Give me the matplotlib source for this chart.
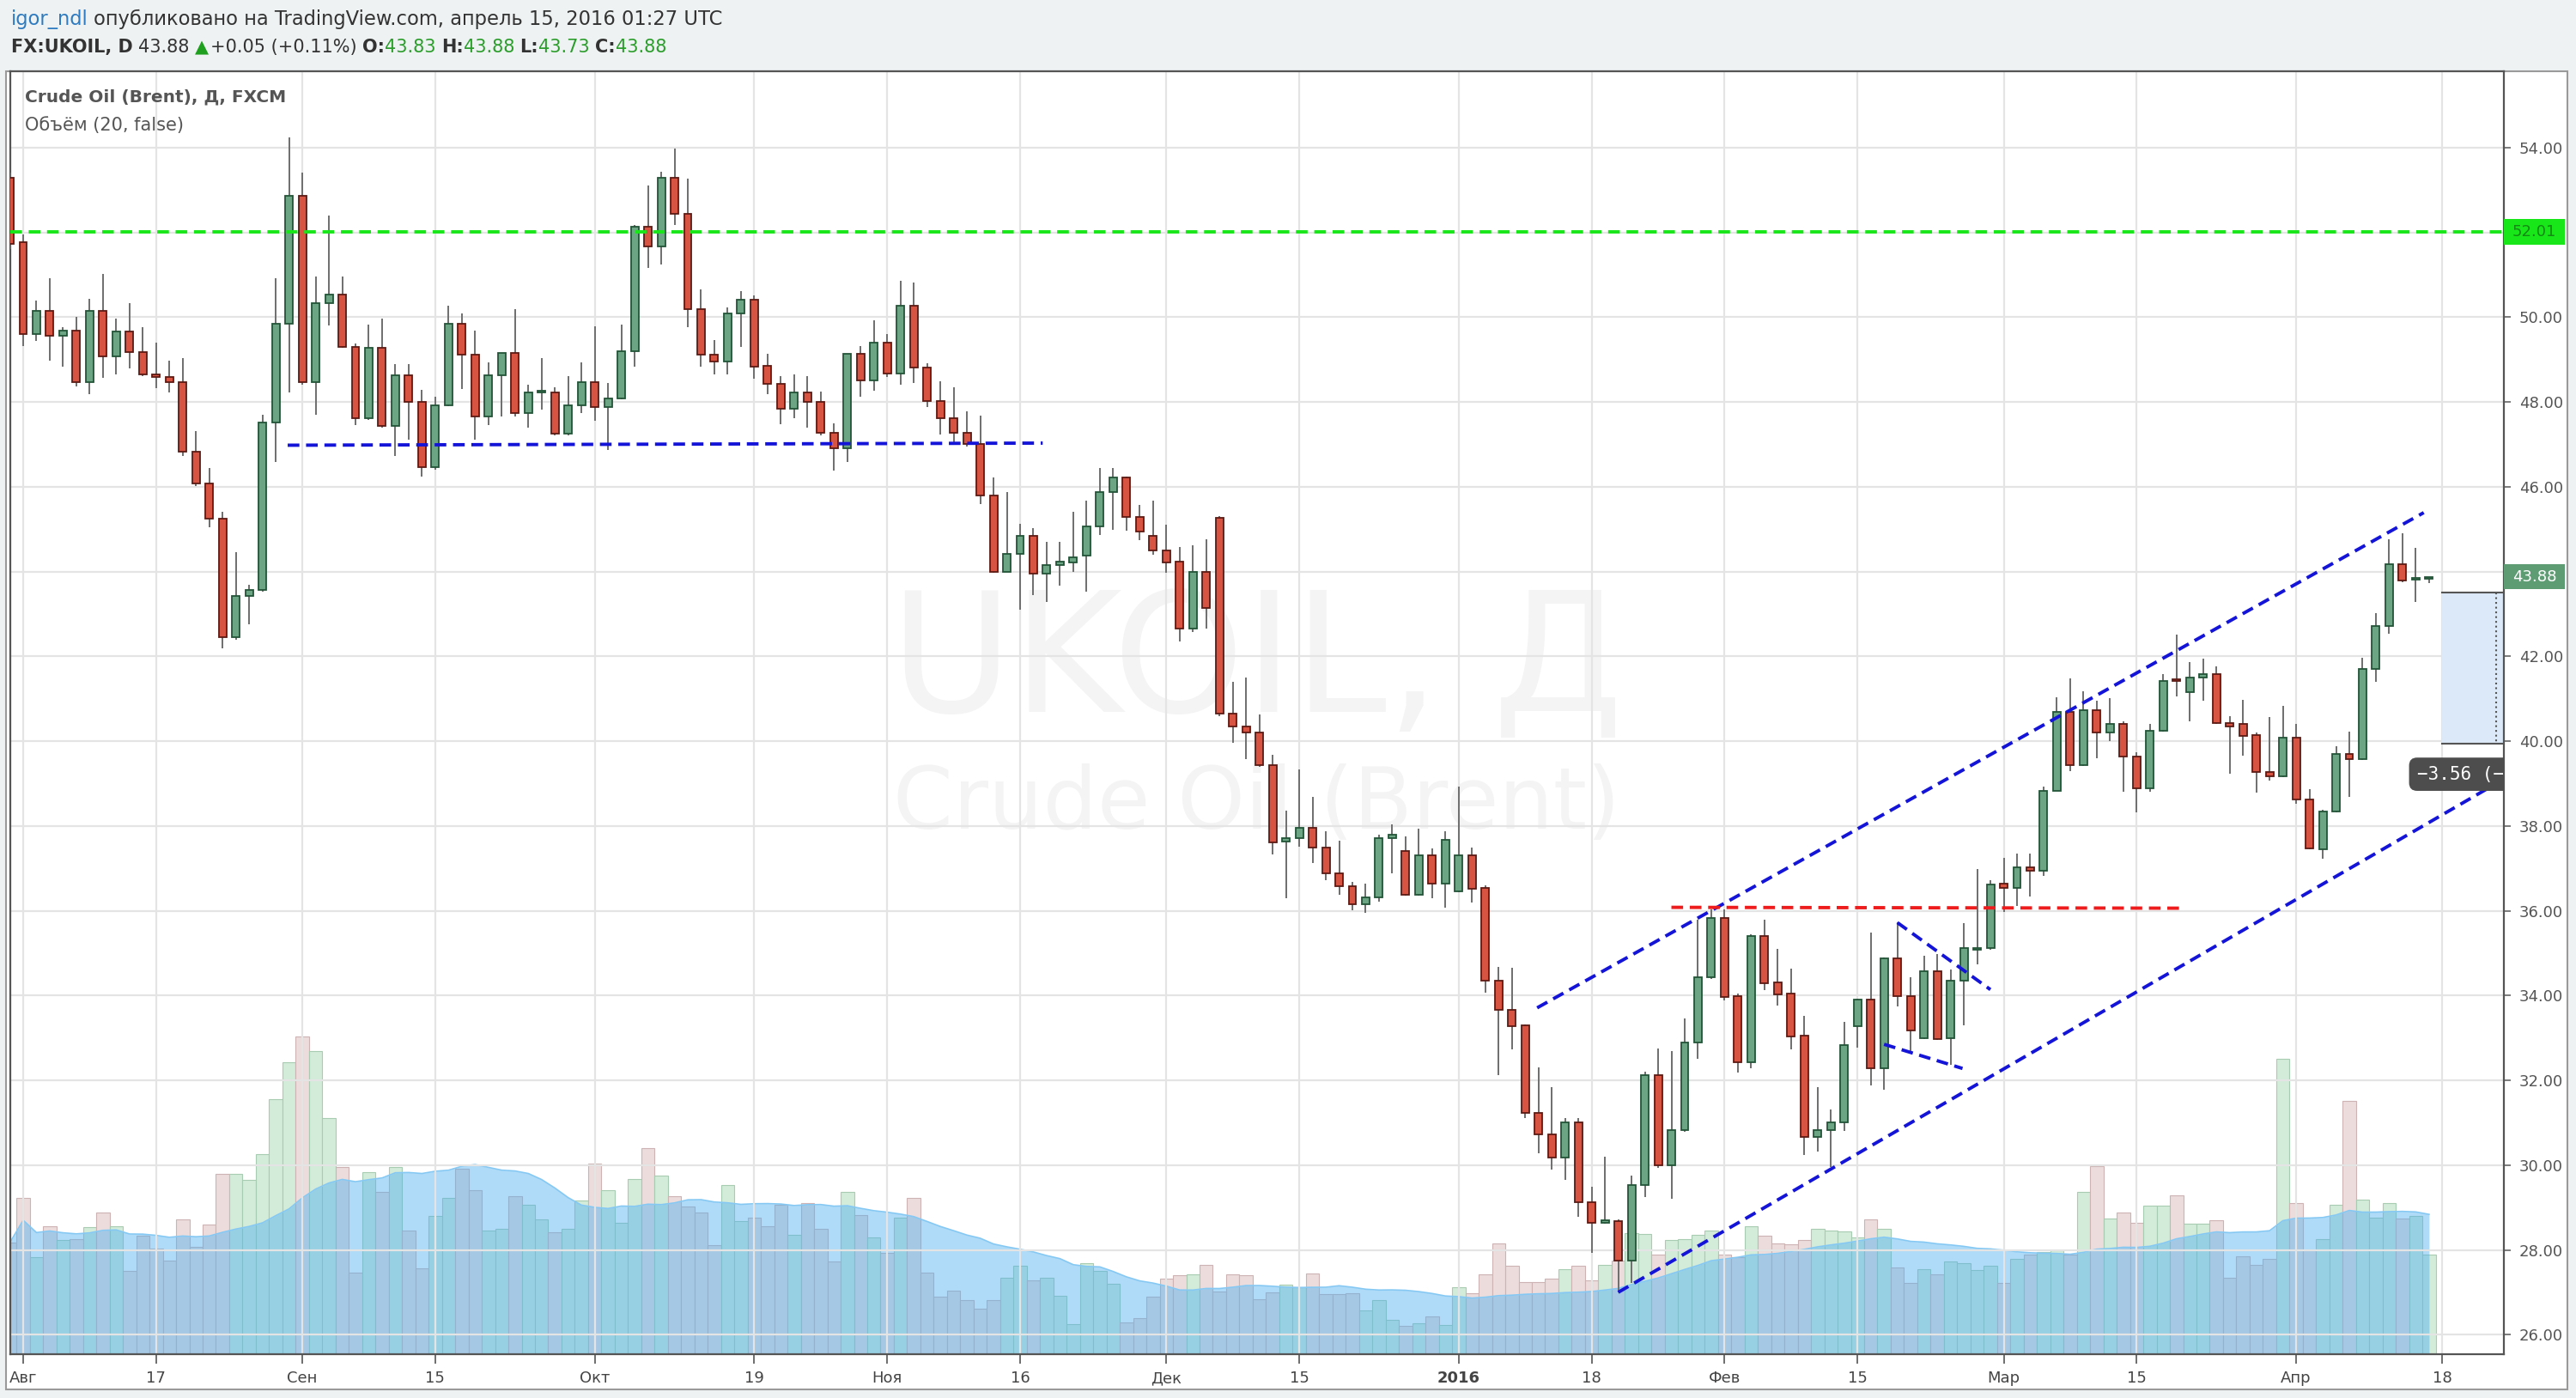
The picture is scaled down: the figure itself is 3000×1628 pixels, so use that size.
import matplotlib
matplotlib.use('Agg')
import matplotlib.pyplot as plt
import matplotlib.transforms as mtransforms
from matplotlib.patches import Rectangle
import numpy as np
import pandas as pd

plt.rcParams['font.family'] = ['DejaVu Sans']

# ---------------- data (daily candles, first one is cut by the left edge) ----------------
opens = [53.29, 51.76, 49.61, 50.15, 49.57, 49.69, 48.46, 50.15, 49.08, 49.66, 49.18,
         48.66, 48.58, 48.46, 46.82, 46.08, 45.24, 42.46, 43.42, 43.56, 47.51,
         49.84, 52.87, 48.46, 50.34, 50.54, 49.30, 47.61, 49.27, 47.43, 48.62,
         48.00, 46.47, 47.93, 49.84, 49.12, 47.66, 48.62, 49.15, 47.74, 48.23,
         48.23, 47.26, 47.93, 48.47, 47.89, 48.09, 49.19, 52.13, 51.67, 53.29,
         52.43, 50.18, 49.12, 48.95, 50.08, 50.41, 48.85, 48.43, 47.85, 48.23,
         48.00, 47.28, 46.90, 49.13, 48.50, 49.39, 48.68, 50.28, 48.81, 48.03,
         47.61, 47.28, 47.01, 45.79, 44.00, 44.42, 44.84, 43.96, 44.15, 44.21,
         44.38, 45.07, 45.87, 46.21, 45.29, 44.84, 44.49, 44.23, 42.66, 44.00,
         45.26, 40.65, 40.34, 40.20, 39.43, 37.63, 37.71, 37.95, 37.49, 36.88,
         36.57, 36.15, 36.31, 37.72, 37.41, 36.38, 37.31, 36.64, 36.46, 37.31,
         36.53, 34.36, 33.67, 33.29, 31.24, 30.73, 30.17, 31.01, 29.13, 28.63,
         28.67, 27.75, 29.52, 32.13, 30.00, 30.83, 32.89, 34.43, 35.82, 33.99,
         32.43, 35.40, 34.32, 34.05, 33.05, 30.66, 30.83, 31.01, 33.27, 33.91,
         32.28, 34.87, 33.99, 32.99, 34.58, 32.99, 34.36, 35.08, 35.13, 36.64,
         36.53, 37.03, 36.94, 38.83, 40.70, 39.44, 40.73, 40.20, 40.40, 39.63,
         38.89, 40.24, 41.44, 41.15, 41.50, 41.59, 40.43, 40.40, 40.15, 39.28,
         39.17, 40.09, 38.62, 37.45, 38.35, 39.69, 39.57, 41.71, 42.71, 44.17,
         43.80, 43.83]
highs = [53.40, 51.96, 50.39, 50.92, 49.77, 50.01, 50.43, 51.03, 49.97, 50.34, 49.77,
         49.39, 48.97, 49.04, 47.32, 46.44, 45.40, 44.46, 43.69, 47.70, 50.92,
         54.25, 53.41, 50.96, 52.39, 50.96, 49.38, 49.82, 49.97, 48.90, 48.90,
         48.29, 48.12, 50.28, 50.08, 49.69, 48.93, 49.15, 50.19, 48.41, 49.04,
         48.35, 48.60, 48.93, 49.78, 48.44, 49.82, 52.18, 53.10, 53.44, 53.98,
         53.26, 50.66, 49.46, 50.24, 50.61, 50.51, 49.13, 48.60, 48.66, 48.60,
         48.24, 47.49, 49.13, 49.32, 49.92, 49.61, 50.85, 50.81, 48.92, 48.49,
         48.35, 47.78, 47.67, 46.21, 45.87, 45.12, 45.03, 44.70, 44.70, 45.41,
         45.68, 46.45, 46.45, 46.25, 45.57, 45.68, 45.10, 44.57, 44.61, 44.76,
         45.30, 41.40, 41.50, 40.62, 39.67, 38.37, 39.33, 38.68, 37.88, 37.65,
         36.69, 36.64, 37.80, 38.04, 37.76, 37.93, 37.47, 37.88, 38.92, 37.49,
         36.60, 34.67, 34.66, 33.32, 32.30, 31.83, 31.10, 31.10, 29.49, 30.19,
         28.73, 29.75, 32.21, 32.76, 32.68, 33.46, 35.78, 36.03, 36.03, 34.05,
         35.44, 35.78, 35.11, 34.64, 33.52, 31.83, 31.31, 33.38, 33.92, 35.49,
         34.89, 35.72, 34.44, 34.94, 34.97, 34.61, 35.71, 36.98, 36.72, 37.24,
         37.35, 37.35, 38.92, 41.03, 41.48, 41.17, 40.95, 41.01, 40.46, 39.74,
         40.40, 41.59, 42.52, 41.86, 41.95, 41.77, 40.59, 40.98, 40.20, 40.57,
         40.84, 40.40, 38.86, 38.39, 39.88, 40.23, 41.96, 43.02, 44.76, 44.91,
         44.56, 43.88]
lows = [51.60, 49.32, 49.44, 48.98, 48.83, 48.37, 48.18, 48.56, 48.66, 48.79, 48.61,
        48.33, 48.22, 46.73, 46.02, 45.05, 42.19, 42.39, 42.76, 43.52, 46.58,
        48.22, 48.40, 47.69, 49.80, 49.28, 47.46, 47.58, 47.39, 46.73, 47.11,
        46.23, 46.41, 47.90, 48.30, 47.11, 47.46, 47.66, 47.66, 47.39, 47.81,
        47.22, 47.22, 47.74, 47.55, 46.87, 48.07, 48.83, 51.17, 51.25, 52.18,
        49.76, 48.83, 48.66, 48.66, 49.29, 48.54, 48.18, 47.47, 47.61, 47.39,
        47.22, 46.38, 46.58, 48.12, 48.26, 48.58, 48.41, 48.45, 47.89, 47.24,
        47.03, 46.94, 45.60, 43.98, 44.00, 43.10, 43.44, 43.29, 43.66, 44.00,
        43.52, 44.87, 44.98, 44.97, 44.74, 44.40, 43.97, 42.36, 42.57, 42.66,
        40.59, 39.97, 39.57, 39.40, 37.33, 36.30, 37.52, 37.13, 36.72, 36.38,
        36.01, 35.96, 36.22, 36.88, 36.36, 36.36, 36.30, 36.07, 36.44, 36.20,
        34.07, 32.12, 32.73, 31.11, 30.27, 29.89, 29.66, 28.78, 27.93, 28.61,
        27.00, 27.22, 29.24, 29.94, 29.20, 30.78, 32.51, 34.40, 33.88, 32.19,
        32.28, 34.12, 33.76, 32.73, 30.24, 30.31, 29.96, 30.80, 32.77, 31.88,
        31.77, 33.74, 32.66, 32.97, 32.95, 32.36, 33.30, 34.73, 35.08, 35.98,
        36.12, 36.34, 36.83, 38.83, 39.30, 39.41, 39.60, 40.00, 38.81, 38.32,
        38.81, 40.22, 41.06, 40.46, 40.95, 40.40, 39.23, 39.66, 38.78, 39.08,
        39.15, 38.53, 37.45, 37.22, 38.33, 38.68, 39.55, 41.40, 42.54, 43.75,
        43.28, 43.73]
closes = [51.73, 49.61, 50.15, 49.57, 49.69, 48.46, 50.15, 49.08, 49.66, 49.18, 48.65,
          48.58, 48.46, 46.82, 46.08, 45.24, 42.46, 43.42, 43.56, 47.51, 49.84,
          52.87, 48.46, 50.34, 50.54, 49.30, 47.61, 49.27, 47.43, 48.62, 48.00,
          46.47, 47.93, 49.84, 49.12, 47.66, 48.62, 49.15, 47.74, 48.23, 48.24,
          47.26, 47.93, 48.47, 47.89, 48.09, 49.19, 52.13, 51.67, 53.29, 52.43,
          50.18, 49.12, 48.95, 50.08, 50.41, 48.83, 48.43, 47.85, 48.23, 48.00,
          47.28, 46.90, 49.13, 48.50, 49.39, 48.68, 50.28, 48.81, 48.03, 47.61,
          47.28, 47.01, 45.79, 44.00, 44.42, 44.84, 43.96, 44.15, 44.24, 44.34,
          45.07, 45.87, 46.21, 45.29, 44.95, 44.49, 44.21, 42.66, 44.00, 43.14,
          40.65, 40.34, 40.20, 39.43, 37.62, 37.71, 37.95, 37.49, 36.88, 36.57,
          36.15, 36.31, 37.72, 37.80, 36.38, 37.31, 36.64, 37.67, 37.31, 36.51,
          34.36, 33.66, 33.27, 31.24, 30.73, 30.17, 31.01, 29.13, 28.63, 28.69,
          27.75, 29.52, 32.13, 30.00, 30.83, 32.89, 34.43, 35.82, 33.97, 32.43,
          35.40, 34.30, 34.03, 33.04, 30.66, 30.83, 31.01, 32.83, 33.91, 32.28,
          34.87, 33.99, 33.18, 34.58, 32.97, 34.36, 35.13, 35.13, 36.61, 36.53,
          37.03, 36.94, 38.83, 40.70, 39.44, 40.73, 40.20, 40.40, 39.63, 38.89,
          40.24, 41.42, 41.41, 41.50, 41.59, 40.42, 40.35, 40.13, 39.28, 39.17,
          40.09, 38.62, 37.47, 38.35, 39.69, 39.57, 41.71, 42.71, 44.17, 43.79,
          43.83, 43.88]
volumes = [130, 182, 113, 149, 133, 134, 148, 165, 149, 97, 138,
           123, 109, 157, 125, 151, 210, 210, 203, 233, 297,
           340, 370, 353, 275, 218, 95, 212, 189, 218, 144,
           100, 161, 182, 216, 191, 144, 146, 184, 174, 157,
           142, 146, 179, 222, 191, 153, 204, 240, 208, 184,
           172, 165, 127, 197, 155, 159, 149, 174, 139, 176,
           146, 108, 189, 162, 136, 118, 159, 182, 95, 67,
           74, 63, 53, 63, 89, 103, 86, 89, 68, 35,
           106, 97, 82, 37, 42, 67, 88, 92, 93, 104,
           73, 93, 92, 64, 72, 81, 78, 94, 70, 70,
           71, 51, 63, 40, 33, 36, 44, 34, 78, 71,
           93, 129, 103, 84, 84, 88, 99, 103, 86, 104,
           109, 141, 140, 116, 133, 134, 139, 144, 116, 113,
           149, 138, 129, 128, 133, 146, 144, 143, 136, 157,
           146, 101, 83, 99, 93, 108, 106, 98, 103, 83,
           111, 116, 119, 121, 116, 189, 219, 158, 165, 153,
           173, 173, 185, 152, 152, 156, 89, 114, 104, 111,
           344, 176, 121, 134, 174, 295, 180, 159, 176, 158,
           161, 116]

tick_pos = [1, 11, 22, 32, 44, 56, 66, 76, 87, 97, 109, 119, 129, 139, 150, 160, 172, 183]
tick_labels = ['Авг', '17', 'Сен', '15', 'Окт', '19', 'Ноя', '16', 'Дек', '15',
               '2016', '18', 'Фев', '15', 'Мар', '15', 'Апр', '18']
price_ticks = list(range(26, 55, 2))

resistance = 52.01
last_price = 43.88

# drawings (trend lines) as [(x0, y0), (x1, y1)] in bar index / price
support_line = [(20.9, 46.98), (77.7, 47.03)]
upper_channel = [(114.9, 33.71), (181.6, 45.39)]
lower_channel = [(121.0, 27.00), (187.6, 39.10)]
red_level = [(125.0, 36.08), (163.5, 36.06)]
flag_upper = [(142.0, 35.72), (149.0, 34.14)]
flag_lower = [(141.0, 32.85), (146.9, 32.28)]
measure_top, measure_bottom = 43.51, 39.95

# ---------------- layout ----------------
W, H = 3000, 1628
L, T, R, B = 12, 83, 2916, 1577
fig = plt.figure(figsize=(W / 100, H / 100), dpi=100, facecolor='#eef2f3')
rect = [L / W, 1 - B / H, (R - L) / W, (B - T) / H]

fig.patches.append(Rectangle((7 / W, 1 - 1618 / H), (2990 - 7) / W, (1618 - 83) / H,
                             transform=fig.transFigure, fc='white', ec='#9a9a9a',
                             lw=1.5, zorder=-1))

ax2 = fig.add_axes(rect)            # volume (below)
ax = fig.add_axes(rect, sharex=ax2)  # price (above)
ax.patch.set_visible(False)
ax2.set_facecolor('white')

o = np.array(opens); h = np.array(highs); l = np.array(lows); c = np.array(closes)
v = np.array(volumes, dtype=float)
x = np.arange(len(o))
up = c >= o

x_left = (L - 27) / 15.48 + 1
x_right = (R - 27) / 15.48 + 1
ax.set_xlim(x_left, x_right)
ax.set_ylim(25.54, 55.80)
ax2.set_ylim(0, B - T)

# watermark
ax2.text(0.5, 0.537, 'UKOIL, Д', transform=ax2.transAxes, ha='center', va='center',
         fontsize=140, color='#f4f4f4', zorder=0)
ax2.text(0.5, 0.428, 'Crude Oil (Brent)', transform=ax2.transAxes, ha='center', va='center',
         fontsize=72, color='#f4f4f4', zorder=0)

# volume
vcol = np.where(up, '#d3ebd9', '#ecdcdc')
vedge = np.where(up, '#a8ccb2', '#cdb3b3')
ax2.bar(x, v, width=1.0, color=vcol, edgecolor=vedge, lw=0.8, zorder=1)
ma = pd.Series(v).rolling(20, min_periods=1).mean().values
ax2.fill_between(x, 0, ma, color='#4fb0f0', alpha=0.45, lw=0, zorder=2)
ax2.plot(x, ma, color='#84c8f3', lw=1.2, zorder=2)
ax2.set_yticks([])
ax2.tick_params(axis='x', which='both', bottom=False, labelbottom=False)
for s in ax2.spines.values():
    s.set_visible(False)

# grid
ax.set_axisbelow(True)
ax.grid(True, color='#e4e4e4', lw=1.6)

# candles
body_col = np.where(up, '#6ba583', '#d75442')
edge_col = np.where(up, '#225437', '#5b1a13')
ax.vlines(x, l, h, color='#6e6e6e', lw=1.4, zorder=3)
bottoms = np.minimum(o, c)
heights = np.maximum(np.abs(c - o), 0.04)
ax.bar(x, heights, bottom=bottoms, width=0.58, color=body_col, edgecolor=edge_col,
       lw=1.3, zorder=4)

# drawings
dash = (3.5, 2.0)
ax.axhline(resistance, color='#19e619', lw=2.8, dashes=dash, zorder=5)
for seg in [support_line, upper_channel, lower_channel, flag_upper, flag_lower]:
    (x0, y0), (x1, y1) = seg
    ax.plot([x0, x1], [y0, y1], color='#1414d8', lw=2.8, dashes=dash, zorder=5)
(x0, y0), (x1, y1) = red_level
ax.plot([x0, x1], [y0, y1], color='#ee1c1c', lw=2.8, dashes=dash, zorder=5)

# measure box
bx0 = 183.0
ax.add_patch(Rectangle((bx0, measure_bottom), x_right - bx0 + 1, measure_top - measure_bottom,
                       fc='#dce9f8', ec='none', zorder=2))
ax.plot([bx0, x_right + 1], [measure_top, measure_top], color='#555555', lw=1.5, zorder=3)
ax.plot([bx0, x_right + 1], [measure_bottom, measure_bottom], color='#555555', lw=1.5, zorder=3)
ax.plot([187.05, 187.05], [measure_top, measure_bottom], color='#555555', lw=1.5,
        ls=':', zorder=3)
diff = measure_bottom - measure_top
ax.text(181.1, 39.22, '\u2212%.2f (\u2212%.2f%%)' % (-diff, -diff / measure_top * 100),
        color='white', fontsize=15, family='DejaVu Sans Mono', va='center', ha='left',
        bbox=dict(boxstyle='round,pad=0.45', fc='#4d4d4d', ec='none'),
        clip_on=True, zorder=8)

# axes styling
for s in ax.spines.values():
    s.set_color('#555555')
    s.set_linewidth(1.6)
ax.yaxis.tick_right()
ax.set_yticks(price_ticks)
# labels hidden under the price marker boxes (52.01 and 43.88)
hidden = {52, 44}
ax.set_yticklabels(['' if p in hidden else '%.2f' % p for p in price_ticks])
ax.tick_params(axis='y', length=6, width=1.2, color='#666666', labelsize=13,
               labelcolor='#555555', pad=7)
ax.set_xticks(tick_pos)
ax.set_xticklabels(tick_labels)
ax.tick_params(axis='x', length=8, width=1.2, color='#555555', labelsize=13,
               labelcolor='#444444', pad=6)
for t in ax.get_xticklabels():
    if t.get_text() == '2016':
        t.set_fontweight('bold')

# price labels on the right scale
trans = mtransforms.blended_transform_factory(ax.transAxes, ax.transData)
colw = (2987 - R) / (R - L)
ax.add_patch(Rectangle((1.0, resistance - 0.31), colw, 0.62, transform=trans,
                       fc='#19e619', ec='none', clip_on=False, zorder=10))
ax.text(1.0 + colw / 2, resistance, '%.2f' % resistance, transform=trans, ha='center',
        va='center', color='#138a13', fontsize=13, clip_on=False, zorder=11)
ax.add_patch(Rectangle((1.0, last_price - 0.30), colw, 0.60, transform=trans,
                       fc='#5e9c73', ec='none', clip_on=False, zorder=10))
ax.text(1.0 + colw / 2, last_price, '%.2f' % last_price, transform=trans, ha='center',
        va='center', color='white', fontsize=13, clip_on=False, zorder=11)

# legend text inside plot
ax.text(17 / (R - L), 1 - (113 - T) / (B - T), 'Crude Oil (Brent), Д, FXCM',
        transform=ax.transAxes, fontsize=14.5, fontweight='bold', color='#555555',
        va='center', ha='left', zorder=9)
ax.text(17 / (R - L), 1 - (146 - T) / (B - T), 'Объём (20, false)',
        transform=ax.transAxes, fontsize=15, color='#555555', va='center', ha='left',
        zorder=9)

# header lines (chained text pieces)
def chain(pieces, x0, y0, size):
    prev = fig.text(x0, y0, pieces[0][0], color=pieces[0][1], fontweight=pieces[0][2],
                    fontsize=size, va='center', ha='left')
    for s, col, wt, gap in pieces[1:]:
        prev = ax.annotate(s, xy=(1, 0.5), xycoords=prev, xytext=(gap, 0),
                           textcoords='offset points', color=col, fontweight=wt,
                           fontsize=size, va='center', ha='left', annotation_clip=False)

gap = 4.5
chain([('igor_ndl', '#2e7bbf', 'normal'),
       ('опубликовано на TradingView.com, апрель 15, 2016 01:27 UTC', '#333333', 'normal', gap)],
      13 / W, 1 - 22 / H, 16.3)
green = '#2a9d2a'
chain([('FX:UKOIL, D', '#333333', 'bold'),
       ('%.2f' % last_price, '#333333', 'normal', gap),
       ('▲', '#1ea01e', 'normal', gap),
       ('+0.05 (+0.11%)', '#333333', 'normal', 2),
       ('O:', '#333333', 'bold', gap),
       ('%.2f' % opens[-1], green, 'normal', 0),
       ('H:', '#333333', 'bold', gap),
       ('%.2f' % highs[-1], green, 'normal', 0),
       ('L:', '#333333', 'bold', gap),
       ('%.2f' % lows[-1], green, 'normal', 0),
       ('C:', '#333333', 'bold', gap),
       ('%.2f' % closes[-1], green, 'normal', 0)],
      13 / W, 1 - 55 / H, 15)

fig.savefig('out.png', dpi=100, facecolor=fig.get_facecolor())
